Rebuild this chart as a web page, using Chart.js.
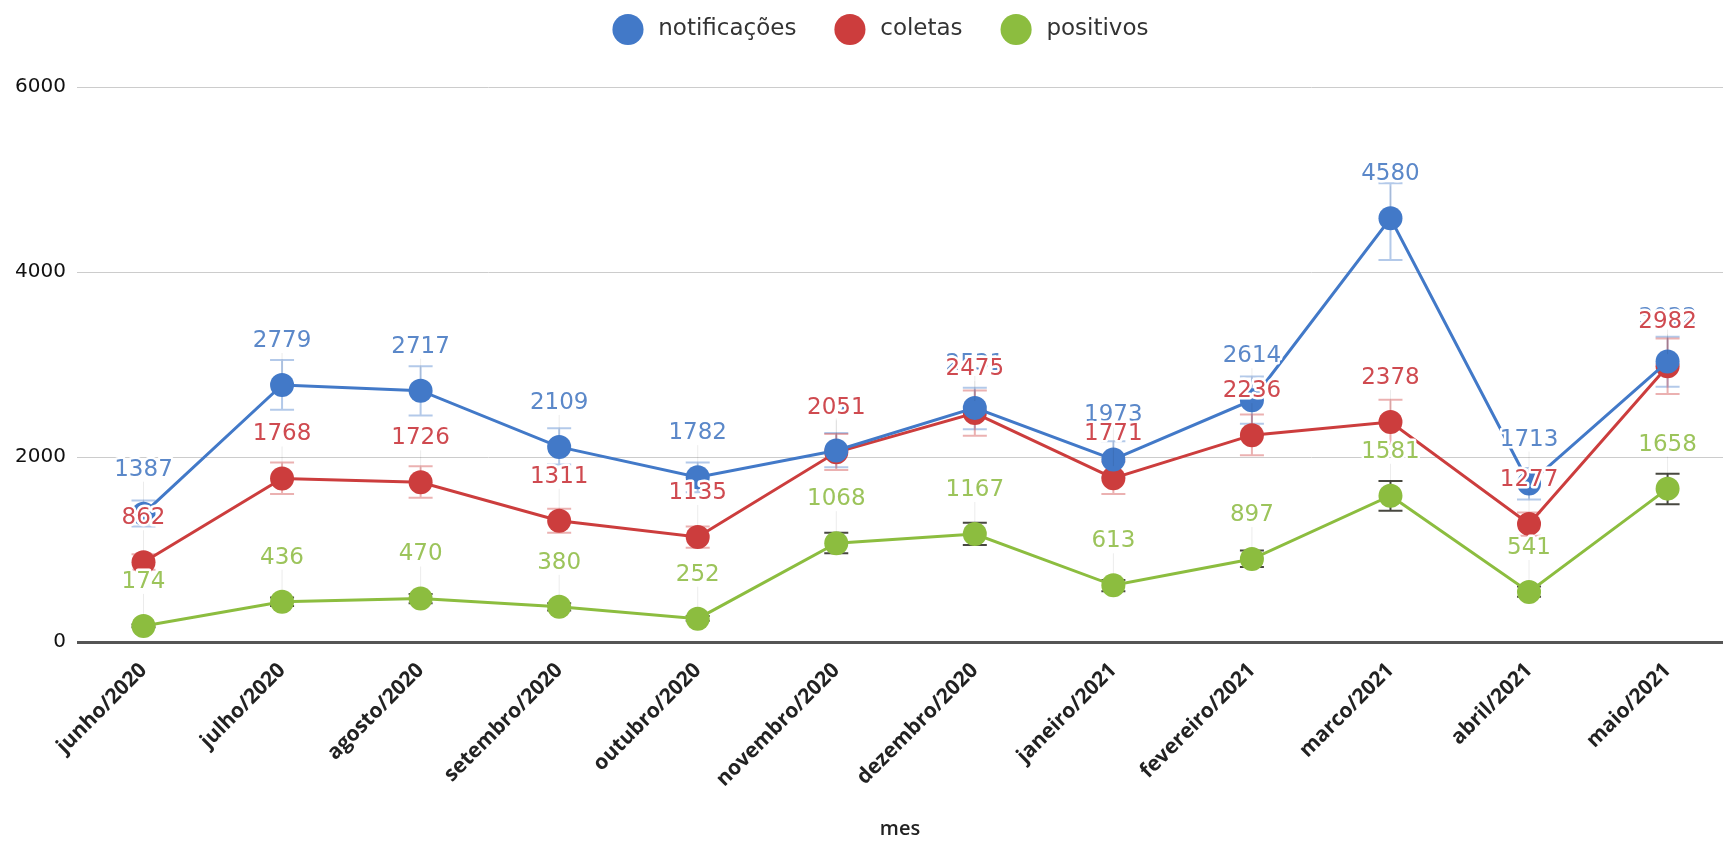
<!DOCTYPE html>
<html>
<head>
<meta charset="utf-8">
<script src="https://cdn.jsdelivr.net/npm/chart.js@4.4.1/dist/chart.umd.min.js"></script>
<style>
  html, body { margin: 0; padding: 0; background: #fff; }
  #wrap { width: 1735px; height: 841px; }
</style>
</head>
<body>
<div id="wrap"><canvas id="grafico"></canvas></div>
<script>
const meses = ['junho/2020', 'julho/2020', 'agosto/2020', 'setembro/2020', 'outubro/2020', 'novembro/2020',
               'dezembro/2020', 'janeiro/2021', 'fevereiro/2021', 'marco/2021', 'abril/2021', 'maio/2021'];
const yTicks = [0, 2000, 4000, 6000];

const notificacoes = [1387, 2779, 2717, 2109, 1782, 2071, 2531, 1973, 2614, 4580, 1713, 3032];
const coletas      = [862, 1768, 1726, 1311, 1135, 2051, 2475, 1771, 2236, 2378, 1277, 2982];
const positivos    = [174, 436, 470, 380, 252, 1068, 1167, 613, 897, 1581, 541, 1658];

// intervalos (barras de erro)
const notifMin = [1250, 2510, 2450, 1920, 1620, 1890, 2300, 1780, 2360, 4130, 1540, 2760];
const notifMax = [1530, 3050, 2980, 2310, 1940, 2260, 2750, 2170, 2870, 4960, 1880, 3300];
const coletasMin = [780, 1600, 1560, 1180, 1020, 1860, 2230, 1600, 2020, 2140, 1150, 2680];
const coletasMax = [950, 1940, 1900, 1440, 1250, 2250, 2720, 1950, 2460, 2620, 1400, 3280];
const positivosMin = [160, 390, 420, 340, 230, 960, 1050, 550, 810, 1420, 490, 1490];
const positivosMax = [190, 480, 520, 420, 280, 1180, 1290, 670, 990, 1740, 600, 1820];

const series = [
    { label: 'notificações', data: notificacoes, lo: notifMin, hi: notifMax, color: '#4279c8', text: '#5b88c9', bar: 'rgba(66,121,200,0.4)' },
    { label: 'coletas', data: coletas, lo: coletasMin, hi: coletasMax, color: '#cc3d3d', text: '#cf4a50', bar: 'rgba(204,61,61,0.4)' },
    { label: 'positivos', data: positivos, lo: positivosMin, hi: positivosMax, color: '#8cbd3f', text: '#9cc45b', bar: 'rgba(40,40,30,0.85)' }
];

const intervalos = {
    id: 'intervalos',
    beforeLayout(chart) {
        // espaco extra abaixo da legenda e leve deslocamento para a direita
        const lg = chart.legend;
        if (lg && !lg._extra) {
            const fit = lg.fit;
            lg.fit = function () {
                fit.call(this);
                this.height += 36;
                if (this.lineWidths && this.lineWidths.length) this.lineWidths[0] -= 30;
            };
            lg._extra = true;
        }
    },
    beforeDatasetsDraw(chart) {
        const ctx = chart.ctx;
        const y = chart.scales.y;
        ctx.save();
        series.forEach((s, i) => {
            const meta = chart.getDatasetMeta(i);
            ctx.strokeStyle = s.bar;
            ctx.lineWidth = 2;
            meta.data.forEach((pt, j) => {
                const y1 = y.getPixelForValue(s.lo[j]);
                const y2 = y.getPixelForValue(s.hi[j]);
                ctx.beginPath();
                ctx.moveTo(pt.x, y1); ctx.lineTo(pt.x, y2);
                ctx.moveTo(pt.x - 12, y1); ctx.lineTo(pt.x + 12, y1);
                ctx.moveTo(pt.x - 12, y2); ctx.lineTo(pt.x + 12, y2);
                ctx.stroke();
            });
        });
        ctx.restore();
    },
    afterDatasetsDraw(chart) {
        // rotulos com contorno branco
        const ctx = chart.ctx;
        ctx.save();
        ctx.font = '23px "DejaVu Sans"';
        ctx.textAlign = 'center';
        ctx.textBaseline = 'middle';
        ctx.lineJoin = 'round';
        series.forEach((s, i) => {
            const meta = chart.getDatasetMeta(i);
            meta.data.forEach((pt, j) => {
                const ty = pt.y - 44;
                ctx.strokeStyle = 'rgba(0,0,0,0.08)';
                ctx.lineWidth = 1;
                ctx.beginPath();
                ctx.moveTo(pt.x, ty + 12); ctx.lineTo(pt.x, pt.y - 12);
                ctx.stroke();
                ctx.strokeStyle = '#fff';
                ctx.lineWidth = 5;
                ctx.strokeText(String(s.data[j]), pt.x, ty);
                ctx.fillStyle = s.text;
                ctx.fillText(String(s.data[j]), pt.x, ty);
            });
        });
        ctx.restore();
    }
};

new Chart(document.getElementById('grafico'), {
    type: 'line',
    data: {
        datasets: series.map(s => ({
            label: ' ' + s.label,
            data: s.data.map((v, i) => ({ x: i, y: v })),
            borderColor: s.color,
            backgroundColor: s.color,
            borderWidth: 3,
            pointRadius: 12,
            pointBorderWidth: 0,
            pointHoverRadius: 12,
            tension: 0
        }))
    },
    options: {
        responsive: true,
        maintainAspectRatio: false,
        animation: false,
        layout: { padding: { top: -24, left: 0, right: 0, bottom: 0 } },
        plugins: {
            legend: {
                position: 'top',
                labels: {
                    usePointStyle: true,
                    pointStyle: 'circle',
                    boxHeight: 22,
                    padding: 42,
                    color: '#333',
                    font: { family: 'DejaVu Sans', size: 23 }
                }
            },
            tooltip: { enabled: false }
        },
        scales: {
            x: {
                type: 'linear',
                min: -0.48,
                max: 11.4,
                afterFit: sc => { sc.height = 199; },
                ticks: {
                    stepSize: 1,
                    includeBounds: false,
                    autoSkip: false,
                    minRotation: 45,
                    maxRotation: 45,
                    padding: 8,
                    color: '#222',
                    font: { family: 'Open Sans', size: 21, weight: 'bold' },
                    callback: v => (Number.isInteger(v) && meses[v]) ? meses[v] : ''
                },
                grid: { display: false },
                border: { display: false },
                title: {
                    display: true,
                    text: 'mes',
                    color: '#222',
                    padding: { top: 0, bottom: 0 },
                    font: { family: 'Open Sans', size: 20, weight: '600' }
                }
            },
            y: {
                min: 0,
                max: 6000,
                afterFit: sc => { sc.width = 77; },
                afterBuildTicks: sc => { sc.ticks = yTicks.map(v => ({ value: v })); },
                ticks: {
                    padding: 11,
                    color: '#111',
                    font: { family: 'DejaVu Sans', size: 20 },
                    callback: v => String(v)
                },
                grid: {
                    drawTicks: false,
                    color: c => c.tick && c.tick.value === 0 ? '#555' : '#cccccc',
                    lineWidth: c => c.tick && c.tick.value === 0 ? 3 : 1
                },
                border: { display: false }
            }
        }
    },
    plugins: [intervalos]
});
</script>
</body>
</html>
